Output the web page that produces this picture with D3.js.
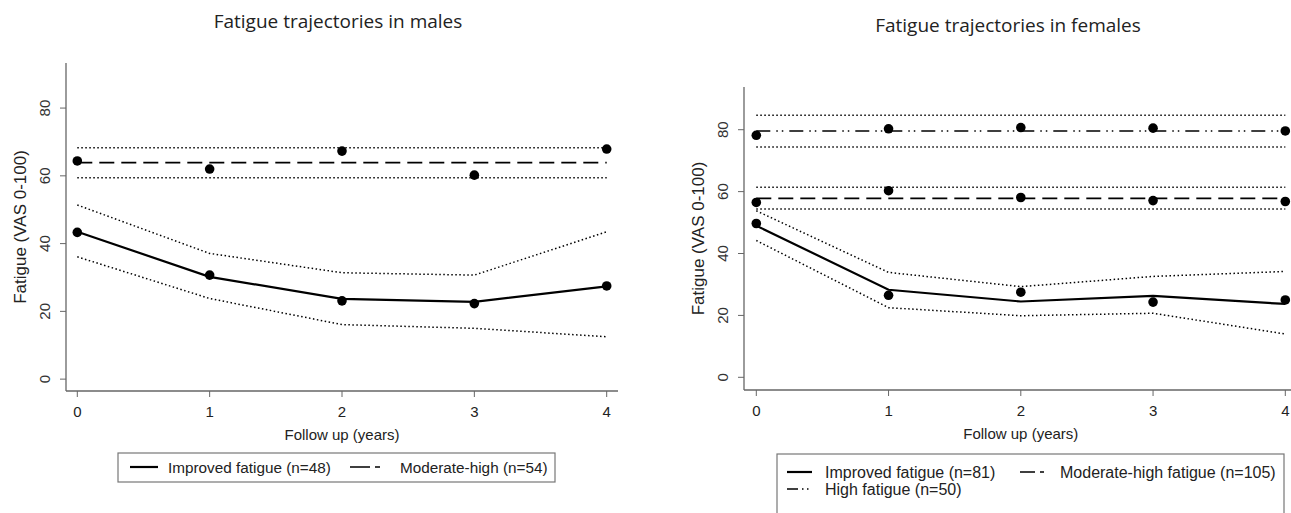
<!DOCTYPE html>
<html>
<head>
<meta charset="utf-8">
<script src="https://cdn.jsdelivr.net/npm/d3@7"></script>
<style>
  body { margin: 0; background: #fff; }
  svg { display: block; }
</style>
</head>
<body>
<svg id="chart" width="1291" height="513"></svg>
<script>
const years = [0, 1, 2, 3, 4];
const yTicks = [0, 20, 40, 60, 80];

// males
const mImprovedObs = [43.3, 30.7, 23.1, 22.3, 27.5];
const mImprovedFit = [43.5, 30.2, 23.7, 22.8, 27.4];
const mImprovedHi = [51.4, 37.1, 31.4, 30.7, 43.5];
const mImprovedLo = [36.1, 23.8, 16.1, 15.0, 12.5];
const mModObs = [64.4, 62.0, 67.3, 60.2, 67.9];
const mModFit = [63.9, 63.9, 63.9, 63.9, 63.9];
const mModHi = [68.3, 68.3, 68.3, 68.3, 68.3];
const mModLo = [59.4, 59.4, 59.4, 59.4, 59.4];

// females
const fImprovedObs = [49.7, 26.5, 27.5, 24.3, 25.0];
const fImprovedFit = [49.0, 28.3, 24.5, 26.3, 23.7];
const fImprovedHi = [53.8, 33.9, 29.3, 32.6, 34.2];
const fImprovedLo = [44.2, 22.5, 19.9, 20.7, 14.0];
const fModObs = [56.5, 60.3, 58.1, 57.1, 56.8];
const fModFit = [57.8, 57.8, 57.8, 57.8, 57.8];
const fModHi = [61.4, 61.4, 61.4, 61.4, 61.4];
const fModLo = [54.4, 54.4, 54.4, 54.4, 54.4];
const fHighObs = [78.2, 80.3, 80.7, 80.5, 79.6];
const fHighFit = [79.6, 79.6, 79.6, 79.6, 79.6];
const fHighHi = [84.7, 84.7, 84.7, 84.7, 84.7];
const fHighLo = [74.4, 74.4, 74.4, 74.4, 74.4];

const styles = {
  solid: { dash: null, width: 2.2 },
  dash: { dash: "15,7", width: 1.6 },
  dashdot: { dash: "14,6,1.5,4,1.5,6", width: 1.6 },
  dot: { dash: "1.5,2.5", width: 1.5 }
};

const svg = d3.select("#chart");
const axisColor = "#666";
const font = "Arial, 'Liberation Sans', sans-serif";

function drawPanel(p) {
  const x = d3.scaleLinear().domain([0, 4]).range(p.xRange);
  const y = d3.scaleLinear().domain(p.yDomain).range([p.bottom, p.top]);
  const g = svg.append("g");

  // title
  g.append("text")
    .attr("x", p.titleX).attr("y", p.titleY)
    .attr("text-anchor", "middle")
    .style("font", "19px 'Open Sans', Carlito, sans-serif")
    .attr("fill", "#222")
    .text(p.title);

  // axes
  g.append("line")
    .attr("x1", p.left).attr("x2", p.left)
    .attr("y1", p.top).attr("y2", p.bottom)
    .attr("stroke", axisColor).attr("stroke-width", 1.3);
  g.append("line")
    .attr("x1", p.left).attr("x2", p.right)
    .attr("y1", p.bottom).attr("y2", p.bottom)
    .attr("stroke", axisColor).attr("stroke-width", 1.3);

  yTicks.forEach(t => {
    g.append("line")
      .attr("x1", p.left - 6).attr("x2", p.left)
      .attr("y1", y(t)).attr("y2", y(t))
      .attr("stroke", axisColor);
    g.append("text")
      .attr("transform", `translate(${p.left - 16},${y(t)}) rotate(-90)`)
      .attr("text-anchor", "middle")
      .style("font", `15px ${font}`)
      .attr("fill", "#333")
      .text(t);
  });
  years.forEach(t => {
    g.append("line")
      .attr("x1", x(t)).attr("x2", x(t))
      .attr("y1", p.bottom).attr("y2", p.bottom + 6)
      .attr("stroke", axisColor);
    g.append("text")
      .attr("x", x(t)).attr("y", p.bottom + 26)
      .attr("text-anchor", "middle")
      .style("font", `15px ${font}`)
      .attr("fill", "#222")
      .text(t);
  });

  g.append("text")
    .attr("transform", `translate(${p.left - 40},${(p.top + p.bottom) / 2}) rotate(-90)`)
    .attr("text-anchor", "middle")
    .style("font", `17px ${font}`)
    .attr("fill", "#222")
    .text("Fatigue (VAS 0-100)");
  g.append("text")
    .attr("x", (x(0) + x(4)) / 2).attr("y", p.bottom + 49)
    .attr("text-anchor", "middle")
    .style("font", `15px ${font}`)
    .attr("fill", "#222")
    .text("Follow up (years)");

  const line = d3.line().x((d, i) => x(years[i])).y(d => y(d));

  p.groups.forEach(grp => {
    [[grp.hi, styles.dot], [grp.lo, styles.dot], [grp.fit, styles[grp.style]]].forEach(([vals, st]) => {
      g.append("path")
        .attr("d", line(vals))
        .attr("fill", "none")
        .attr("stroke", "#000")
        .attr("stroke-width", st.width)
        .attr("stroke-dasharray", st.dash);
    });
    g.selectAll(null).data(grp.obs).enter().append("circle")
      .attr("cx", (d, i) => x(years[i]))
      .attr("cy", d => y(d))
      .attr("r", 4.8)
      .attr("fill", "#000");
  });

  // legend
  const lg = p.legend;
  g.append("rect")
    .attr("x", lg.x).attr("y", lg.y)
    .attr("width", lg.w).attr("height", lg.h)
    .attr("fill", "#fff").attr("stroke", "#777").attr("stroke-width", 1.2);
  lg.items.forEach(it => {
    const st = styles[it.style];
    g.append("line")
      .attr("x1", it.x).attr("x2", it.x + it.len)
      .attr("y1", it.y).attr("y2", it.y)
      .attr("stroke", "#000")
      .attr("stroke-width", st.width)
      .attr("stroke-dasharray", it.dash || st.dash);
    g.append("text")
      .attr("x", it.tx).attr("y", it.y + 6)
      .style("font", `${lg.size}px ${font}`)
      .attr("fill", "#222")
      .text(it.label);
  });
}

drawPanel({
  title: "Fatigue trajectories in males",
  titleX: 338, titleY: 28,
  left: 66, right: 618, top: 63, bottom: 391,
  xRange: [77.3, 606.7],
  yDomain: [-3.5, 93.3],
  groups: [
    { obs: mImprovedObs, fit: mImprovedFit, hi: mImprovedHi, lo: mImprovedLo, style: "solid" },
    { obs: mModObs, fit: mModFit, hi: mModHi, lo: mModLo, style: "dash" }
  ],
  legend: {
    x: 118, y: 453, w: 437, h: 29, size: 15.3,
    items: [
      { x: 130, y: 467, len: 28, tx: 168, style: "solid", label: "Improved fatigue (n=48)" },
      { x: 350, y: 467, len: 30, tx: 400, style: "dash", dash: "20,5,5,100", label: "Moderate-high (n=54)" }
    ]
  }
});

drawPanel({
  title: "Fatigue trajectories in females",
  titleX: 1008, titleY: 32,
  left: 744, right: 1291, top: 87, bottom: 390,
  xRange: [756.3, 1285.3],
  yDomain: [-4.1, 93.8],
  groups: [
    { obs: fImprovedObs, fit: fImprovedFit, hi: fImprovedHi, lo: fImprovedLo, style: "solid" },
    { obs: fModObs, fit: fModFit, hi: fModHi, lo: fModLo, style: "dash" },
    { obs: fHighObs, fit: fHighFit, hi: fHighHi, lo: fHighLo, style: "dashdot" }
  ],
  legend: {
    x: 777, y: 454, w: 507, h: 70, size: 16,
    items: [
      { x: 787, y: 472, len: 25, tx: 825, style: "solid", label: "Improved fatigue (n=81)" },
      { x: 1020, y: 472, len: 25, tx: 1060, style: "dash", dash: "15,5,4,100", label: "Moderate-high fatigue (n=105)" },
      { x: 787, y: 489, len: 25, tx: 825, style: "dashdot", dash: "11,4,1.5,3.5,1.5,100", label: "High fatigue (n=50)" }
    ]
  }
});
</script>
</body>
</html>
